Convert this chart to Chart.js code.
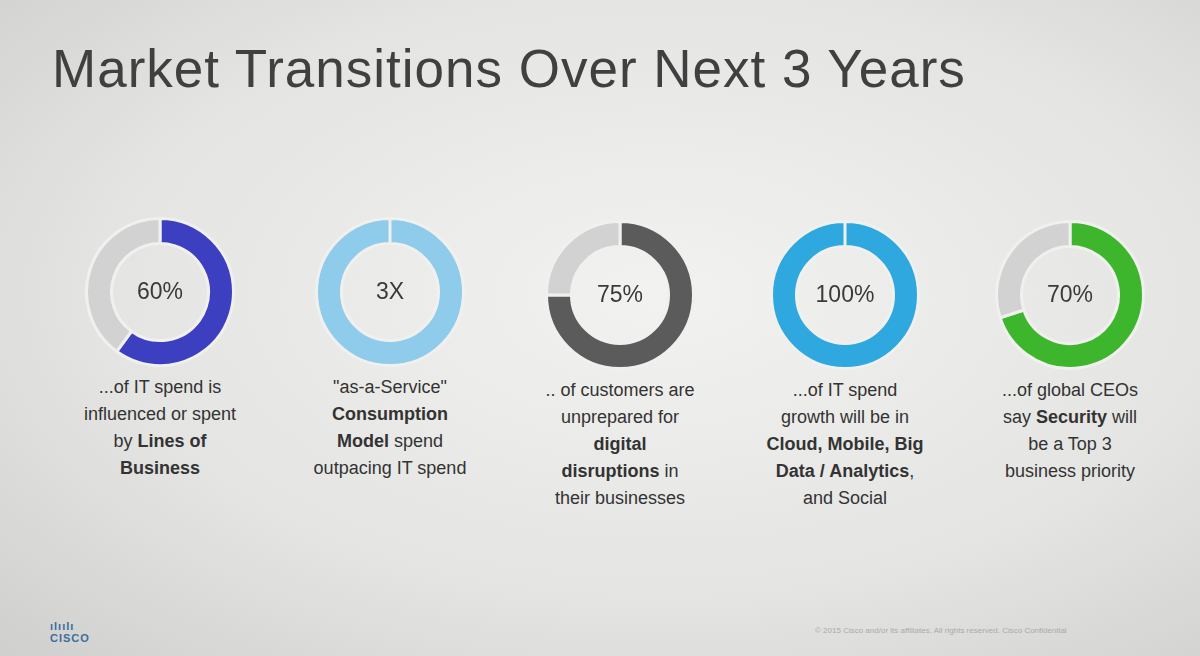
<!DOCTYPE html>
<html>
<head>
<title>Market Transitions</title>
<script src="https://cdn.jsdelivr.net/npm/chart.js"></script>
<style>
  body { margin:0; width:1200px; height:656px; overflow:hidden; font-family:"Liberation Sans", Arial, sans-serif;
    background: radial-gradient(ellipse at 55% 45%, #f2f2f0 0%, #e4e4e2 60%, #cfcfcd 100%); position:relative; }
  h1 { position:absolute; left:52px; top:38px; margin:0; font-weight:normal; font-size:53px; color:#404040; letter-spacing:1px; }
  .box { position:absolute; width:150px; height:150px; }
  .lbl { position:absolute; font-size:23px; color:#3a3a3a; width:160px; text-align:center; }
  .cap { position:absolute; width:230px; text-align:center; font-size:18px; line-height:27px; color:#333; }
  .cap b { font-weight:bold; }
  .logo { position:absolute; left:50px; top:620px; font-size:11px; color:#3a6e9e; font-weight:bold; letter-spacing:1px; }
  .foot { position:absolute; left:815px; top:626px; font-size:8px; color:#aaa; }
</style>
</head>
<body>
<h1>Market Transitions Over Next 3 Years</h1>
<div class="logo">ılıılı<br>CISCO</div>
<div class="foot">© 2015 Cisco and/or its affiliates. All rights reserved. Cisco Confidential</div>
<script>
  const centers = [[160, 292], [390, 292], [620, 295], [845, 295], [1070, 295]];
  const labels = ['60%', '3X', '75%', '100%', '70%'];
  const values = [[60, 40], [100, 0], [75, 25], [100, 0], [70, 30]];
  const colors = [['#3b3fc0', '#d2d2d2'], ['#8fcbea', '#d2d2d2'], ['#5b5b5b', '#d2d2d2'], ['#2ea8df', '#d2d2d2'], ['#3db52c', '#d2d2d2']];
  const captions = [
    '...of IT spend is<br>influenced or spent<br>by <b>Lines of<br>Business</b>',
    '"as-a-Service"<br><b>Consumption<br>Model</b> spend<br>outpacing IT spend',
    '.. of customers are<br>unprepared for<br><b>digital<br>disruptions</b> in<br>their businesses',
    '...of IT spend<br>growth will be in<br><b>Cloud, Mobile, Big<br>Data / Analytics</b>,<br>and Social',
    '...of global CEOs<br>say <b>Security</b> will<br>be a Top 3<br>business priority'
  ];

  centers.forEach(([x, y], i) => {
    const d = document.createElement('div');
    d.className = 'box';
    d.style.left = (x - 75) + 'px';
    d.style.top = (y - 75) + 'px';
    const c = document.createElement('canvas');
    c.width = 150; c.height = 150;
    d.appendChild(c);
    document.body.appendChild(d);

    const l = document.createElement('div');
    l.className = 'lbl';
    l.style.left = (x - 80) + 'px';
    l.style.top = (y - 14) + 'px';
    l.textContent = labels[i];
    document.body.appendChild(l);

    const cap = document.createElement('div');
    cap.className = 'cap';
    cap.style.left = (x - 115) + 'px';
    cap.style.top = (y + 82) + 'px';
    cap.innerHTML = captions[i];
    document.body.appendChild(cap);

    new Chart(c, {
      type: 'doughnut',
      data: {
        labels: ['value', 'rest'],
        datasets: [{ data: values[i], backgroundColor: colors[i], borderColor: '#f0f0ee', borderWidth: 3 }]
      },
      options: {
        responsive: false, animation: false, cutout: '66%',
        plugins: { legend: { display: false }, tooltip: { enabled: false } }
      }
    });
  });
</script>
</body>
</html>
